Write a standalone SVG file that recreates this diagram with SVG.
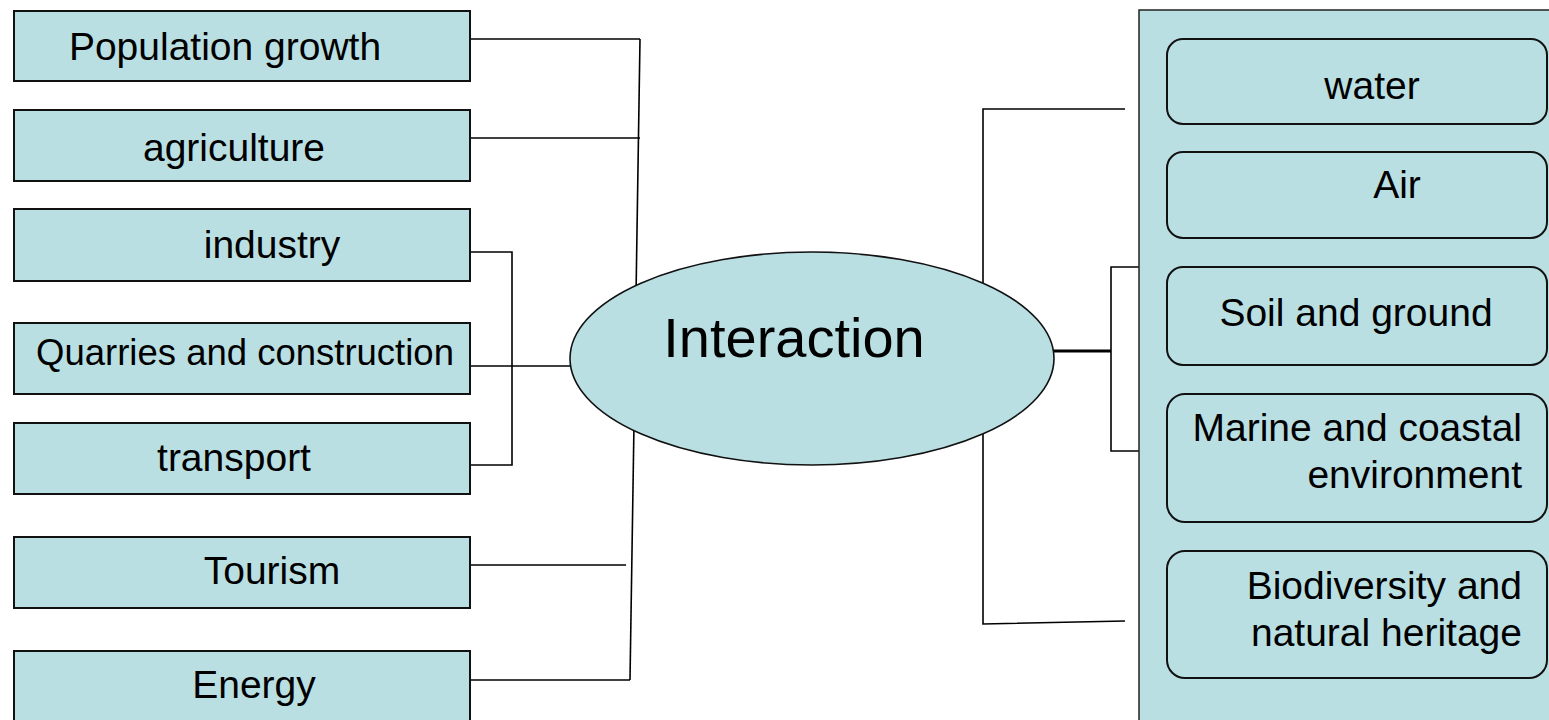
<svg xmlns="http://www.w3.org/2000/svg" width="1549" height="720" viewBox="0 0 1549 720">
  <defs>
    <style>
      .box { fill: #b9dfe3; stroke: #111; stroke-width: 2; }
      .panel { fill: #b9dfe3; stroke: #222; stroke-width: 1.5; }
      .rbox { fill: #b9dfe3; stroke: #111; stroke-width: 2; }
      .link { fill: none; stroke: #000; stroke-width: 1.6; }
      .thick { fill: none; stroke: #000; stroke-width: 3; }
      .lbl { font-family: "Liberation Sans", Arial, sans-serif; font-size: 39px; fill: #000; }
      .mid { text-anchor: middle; }
      .end { text-anchor: end; }
    </style>
  </defs>
  <rect width="1549" height="720" fill="#ffffff"/>

  <!-- connectors -->
  <g id="connectors">
    <path class="link" d="M470,39 H640"/>
    <path class="link" d="M470,138 H640"/>
    <path class="link" d="M640,39 L630,680"/>
    <path class="link" d="M470,565 H626"/>
    <path class="link" d="M470,680 H630"/>
    <path class="link" d="M470,252 H512 V465 H470"/>
    <path class="link" d="M470,366 H572"/>
    <path class="thick" d="M1052,351 H1111"/>
    <path class="link" d="M1139,267 H1111 V451 H1139"/>
    <path class="link" d="M1125,109 H983 V624 L1125,621"/>
  </g>

  <!-- left side: pressures -->
  <g id="population">
    <rect class="box" x="14" y="11" width="456" height="70"/>
    <text class="lbl mid" x="225" y="60">Population growth</text>
  </g>
  <g id="agriculture">
    <rect class="box" x="14" y="110" width="456" height="71"/>
    <text class="lbl mid" x="234" y="161">agriculture</text>
  </g>
  <g id="industry">
    <rect class="box" x="14" y="209" width="456" height="72"/>
    <text class="lbl mid" x="272" y="258">industry</text>
  </g>
  <g id="quarries">
    <rect class="box" x="14" y="323" width="456" height="71"/>
    <text class="lbl mid" x="245" y="365" style="font-size:36.5px">Quarries and construction</text>
  </g>
  <g id="transport">
    <rect class="box" x="14" y="423" width="456" height="71"/>
    <text class="lbl mid" x="234" y="471">transport</text>
  </g>
  <g id="tourism">
    <rect class="box" x="14" y="537" width="456" height="71"/>
    <text class="lbl mid" x="272" y="584">Tourism</text>
  </g>
  <g id="energy">
    <rect class="box" x="14" y="651" width="456" height="80"/>
    <text class="lbl mid" x="254" y="698">Energy</text>
  </g>

  <!-- centre -->
  <g id="interaction">
    <ellipse class="box" cx="812" cy="358.5" rx="242" ry="106.5" style="stroke-width:1.6"/>
    <text class="lbl mid" x="794" y="357" style="font-size:56px">Interaction</text>
  </g>

  <!-- right side: environment components -->
  <g id="environment">
    <rect class="panel" x="1139" y="10" width="430" height="730"/>
    <g id="water">
      <rect class="rbox" x="1167" y="39" width="380" height="85" rx="16" ry="16"/>
      <text class="lbl mid" x="1372" y="99">water</text>
    </g>
    <g id="air">
      <rect class="rbox" x="1167" y="152" width="380" height="86" rx="16" ry="16"/>
      <text class="lbl mid" x="1397" y="198">Air</text>
    </g>
    <g id="soil">
      <rect class="rbox" x="1167" y="267" width="380" height="98" rx="16" ry="16"/>
      <text class="lbl mid" x="1356" y="326">Soil and ground</text>
    </g>
    <g id="marine">
      <rect class="rbox" x="1167" y="394" width="380" height="128" rx="18" ry="18"/>
      <text class="lbl end" x="1522" y="441">Marine and coastal</text>
      <text class="lbl end" x="1522" y="488">environment</text>
    </g>
    <g id="biodiversity">
      <rect class="rbox" x="1167" y="551" width="380" height="127" rx="18" ry="18"/>
      <text class="lbl end" x="1522" y="599">Biodiversity and</text>
      <text class="lbl end" x="1522" y="646">natural heritage</text>
    </g>
  </g>
</svg>
